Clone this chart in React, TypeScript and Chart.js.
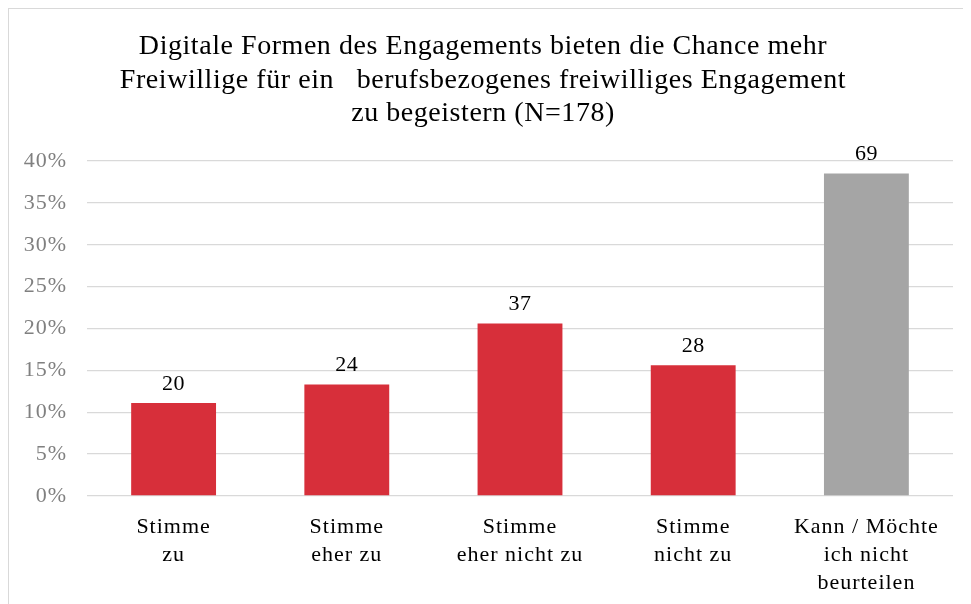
import React, { useEffect, useRef } from "react";
import { Chart, registerables } from "chart.js";

Chart.register(...registerables);

const categories: string[][] = [
  ["Stimme", "zu"],
  ["Stimme", "eher zu"],
  ["Stimme", "eher nicht zu"],
  ["Stimme", "nicht zu"],
  ["Kann / Möchte", "ich nicht", "beurteilen"],
];
const percentValues: number[] = [11.1, 13.3, 20.6, 15.6, 38.5];
const countLabels: string[] = ["20", "24", "37", "28", "69"];
const barColors: string[] = ["#D72F3A", "#D72F3A", "#D72F3A", "#D72F3A", "#A5A5A5"];
const titleLines: string[] = [
  "Digitale Formen des Engagements bieten die Chance mehr",
  "Freiwillige für ein   berufsbezogenes freiwilliges Engagement",
  "zu begeistern (N=178)",
];
const yTickMax = 40;
const yTickStep = 5;

const FONT = "'Liberation Serif', 'Times New Roman', serif";

const textSpacingPlugin = {
  id: "textSpacing",
  beforeDraw(chart: any) {
    (chart.ctx as any).letterSpacing = "1px";
  },
};

const titlePlugin = {
  id: "manualTitle",
  afterDraw(chart: any) {
    const ctx = chart.ctx;
    ctx.save();
    (ctx as any).letterSpacing = "0.55px";
    ctx.font = `28px ${FONT}`;
    ctx.fillStyle = "#000000";
    ctx.textAlign = "center";
    ctx.textBaseline = "alphabetic";
    const cx = chart.width / 2;
    const baselines = [45, 79, 112];
    titleLines.forEach((line, i) => {
      ctx.fillText(line, cx, baselines[i]);
    });
    ctx.restore();
  },
};

const countLabelPlugin = {
  id: "countLabels",
  afterDatasetsDraw(chart: any) {
    const ctx = chart.ctx;
    const meta = chart.getDatasetMeta(0);
    ctx.save();
    (ctx as any).letterSpacing = "0.5px";
    ctx.font = `22px ${FONT}`;
    ctx.fillStyle = "#000000";
    ctx.textAlign = "center";
    ctx.textBaseline = "bottom";
    meta.data.forEach((el: any, i: number) => {
      ctx.fillText(countLabels[i], el.x, el.y - 8);
    });
    ctx.restore();
  },
};

export default function App() {
  const ref = useRef<HTMLCanvasElement | null>(null);

  useEffect(() => {
    document.body.style.overflow = "hidden";
    if (!ref.current) return;
    const chart = new Chart(ref.current, {
      type: "bar",
      data: {
        labels: categories,
        datasets: [
          {
            data: percentValues,
            backgroundColor: barColors,
            borderWidth: 0,
            barPercentage: 0.49,
            categoryPercentage: 1,
          },
        ],
      },
      options: {
        animation: false,
        responsive: false,
        maintainAspectRatio: false,
        layout: { padding: { left: 0, right: 4, top: 152, bottom: 0 } },
        plugins: {
          legend: { display: false },
          tooltip: { enabled: false },
          title: { display: false },
        },
        scales: {
          x: {
            grid: { display: false, drawTicks: false },
            border: { display: false },
            ticks: {
              color: "#000000",
              font: { family: FONT, size: 22, lineHeight: "28px" },
              padding: 17,
              maxRotation: 0,
              autoSkip: false,
            },
            afterFit: (s: any) => {
              s.height = 109;
            },
          },
          y: {
            min: 0,
            max: yTickMax,
            grid: { color: "#D9D9D9", lineWidth: 1.3, drawTicks: false },
            border: { display: false },
            ticks: {
              stepSize: yTickStep,
              color: "#808080",
              font: { family: FONT, size: 22 },
              padding: 20,
              callback: (v: any) => `${v}%`,
            },
            afterFit: (s: any) => {
              s.width = 78;
            },
          },
        },
      },
      plugins: [textSpacingPlugin, countLabelPlugin, titlePlugin],
    });
    return () => chart.destroy();
  }, []);

  return (
    <div
      style={{
        border: "1px solid #D9D9D9",
        width: 990,
        height: 620,
        boxSizing: "border-box",
      }}
    >
      <canvas ref={ref} width={948} height={596} style={{ display: "block" }} />
    </div>
  );
}
